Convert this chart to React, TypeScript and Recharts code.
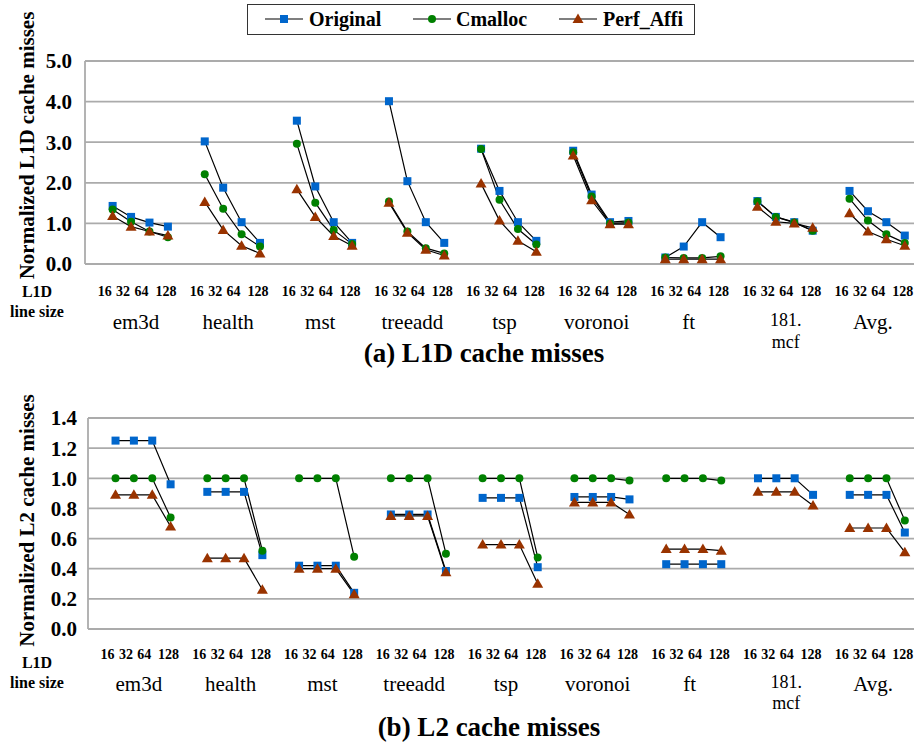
import React from 'react';
import { LineChart, Line, XAxis, YAxis, CartesianGrid } from 'recharts';

// ---------- categories ----------
const benchmarks = ['em3d', 'health', 'mst', 'treeadd', 'tsp', 'voronoi', 'ft', '181.|mcf', 'Avg.'];
const lineSizes = ['16', '32', '64', '128'];
const l1Ticks = [0, 1, 2, 3, 4, 5];
const l2Ticks = [0, 0.2, 0.4, 0.6, 0.8, 1.0, 1.2, 1.4];

// ---------- (a) L1D cache misses ----------
const l1Original = [
  1.43, 1.16, 1.02, 0.92,
  3.02, 1.88, 1.03, 0.52,
  3.53, 1.91, 1.03, 0.52,
  4.01, 2.04, 1.03, 0.52,
  2.84, 1.80, 1.03, 0.57,
  2.79, 1.71, 1.03, 1.06,
  0.16, 0.43, 1.03, 0.66,
  1.55, 1.16, 1.03, 0.82,
  1.80, 1.30, 1.03, 0.70,
];
const l1Cmalloc = [
  1.34, 1.04, 0.80, 0.66,
  2.21, 1.36, 0.73, 0.43,
  2.96, 1.51, 0.84, 0.49,
  1.54, 0.80, 0.39, 0.26,
  2.83, 1.58, 0.86, 0.48,
  2.75, 1.66, 1.00, 1.02,
  0.16, 0.15, 0.15, 0.19,
  1.54, 1.16, 1.02, 0.82,
  1.61, 1.07, 0.73, 0.52,
];
const l1Perf = [
  1.18, 0.92, 0.80, 0.70,
  1.53, 0.84, 0.45, 0.26,
  1.84, 1.16, 0.69, 0.45,
  1.51, 0.77, 0.35, 0.21,
  1.98, 1.07, 0.57, 0.30,
  2.67, 1.57, 0.98, 0.98,
  0.12, 0.12, 0.12, 0.12,
  1.41, 1.04, 1.00, 0.89,
  1.25, 0.80, 0.61, 0.45,
];

// ---------- (b) L2 cache misses ----------
const l2Original = [
  1.25, 1.25, 1.25, 0.96,
  0.91, 0.91, 0.91, 0.49,
  0.42, 0.42, 0.42, 0.24,
  0.76, 0.76, 0.76, 0.385,
  0.87, 0.87, 0.87, 0.41,
  0.876, 0.876, 0.876, 0.86,
  0.43, 0.43, 0.43, 0.43,
  1.0, 1.0, 1.0, 0.89,
  0.89, 0.89, 0.89, 0.64,
];
const l2Cmalloc = [
  1.0, 1.0, 1.0, 0.74,
  1.0, 1.0, 1.0, 0.52,
  1.0, 1.0, 1.0, 0.48,
  1.0, 1.0, 1.0, 0.50,
  1.0, 1.0, 1.0, 0.475,
  1.0, 1.0, 1.0, 0.985,
  1.0, 1.0, 1.0, 0.985,
  null, null, null, null,
  1.0, 1.0, 1.0, 0.72,
];
const l2Perf = [
  0.89, 0.89, 0.89, 0.68,
  0.47, 0.47, 0.47, 0.26,
  0.40, 0.40, 0.40, 0.23,
  0.75, 0.75, 0.75, 0.376,
  0.56, 0.56, 0.56, 0.30,
  0.84, 0.84, 0.84, 0.76,
  0.53, 0.53, 0.53, 0.52,
  0.91, 0.91, 0.91, 0.82,
  0.67, 0.67, 0.67, 0.51,
];

type Row = { slot: number; group: string; size: string; Original: number | null; Cmalloc: number | null; Perf_Affi: number | null };

function buildData(orig: (number | null)[], cm: (number | null)[], perf: (number | null)[]): Row[] {
  const rows: Row[] = [];
  benchmarks.forEach((b, g) => {
    rows.push({ slot: g * 5, group: b, size: '', Original: null, Cmalloc: null, Perf_Affi: null });
    lineSizes.forEach((s, k) => {
      const i = g * 4 + k;
      rows.push({ slot: g * 5 + 1 + k, group: b, size: s, Original: orig[i], Cmalloc: cm[i], Perf_Affi: perf[i] });
    });
  });
  return rows;
}

const l1Data = buildData(l1Original, l1Cmalloc, l1Perf);
const l2Data = buildData(l2Original, l2Cmalloc, l2Perf);

const BLUE = '#0066CC';
const GREEN = '#008000';
const BROWN = '#993300';
const GRID = '#ABABAB';
const SERIF = '"Liberation Serif", "Times New Roman", serif';

const squareDot = (p: any) => {
  if (p.cx == null || p.cy == null || p.value == null) return <g key={p.key} />;
  return <rect key={p.key} x={p.cx - 4} y={p.cy - 4} width={8} height={8} fill={BLUE} />;
};
const circleDot = (p: any) => {
  if (p.cx == null || p.cy == null || p.value == null) return <g key={p.key} />;
  return <circle key={p.key} cx={p.cx} cy={p.cy} r={4} fill={GREEN} />;
};
const triDot = (p: any) => {
  if (p.cx == null || p.cy == null || p.value == null) return <g key={p.key} />;
  return (
    <polygon
      key={p.key}
      points={`${p.cx},${p.cy - 5.5} ${p.cx + 5.5},${p.cy + 4} ${p.cx - 5.5},${p.cy + 4}`}
      fill={BROWN}
    />
  );
};

type TickCfg = { numDy: number; groupDy: number; mcfDy1: number; mcfDy2: number };

function makeTick(rows: Row[], cfg: TickCfg) {
  const bySlot: Record<number, Row> = {};
  rows.forEach((r) => (bySlot[r.slot] = r));
  return (props: any) => {
    const { x, y, payload } = props;
    const row = bySlot[payload.value];
    if (!row || !row.size) return <g />;
    const dx = row.size === '128' ? -2 : -8;
    let groupEl: React.ReactNode = null;
    if (row.size === '32') {
      const gx = x + 5;
      if (row.group.includes('|')) {
        const [a, b] = row.group.split('|');
        groupEl = (
          <g>
            <text x={gx + 5} y={y + cfg.mcfDy1} textAnchor="middle" fontFamily={SERIF} fontSize={18} fill="#000">{a}</text>
            <text x={gx + 5} y={y + cfg.mcfDy2} textAnchor="middle" fontFamily={SERIF} fontSize={18} fill="#000">{b}</text>
          </g>
        );
      } else {
        groupEl = (
          <text x={gx} y={y + cfg.groupDy} textAnchor="middle" fontFamily={SERIF} fontSize={21} fill="#000">{row.group}</text>
        );
      }
    }
    return (
      <g>
        <text x={x + dx} y={y + cfg.numDy} textAnchor="middle" fontFamily={SERIF} fontSize={14} fontWeight="bold" fill="#000">
          {row.size}
        </text>
        {groupEl}
      </g>
    );
  };
}

const YLabel = (props: any) => {
  const { viewBox, text, shift } = props;
  const cx = 27;
  const cy = viewBox.y + viewBox.height / 2 + shift;
  return (
    <text
      x={cx}
      y={cy}
      transform={`rotate(-90 ${cx} ${cy})`}
      textAnchor="middle"
      dominantBaseline="central"
      fontFamily={SERIF}
      fontSize={21}
      fontWeight="bold"
      fill="#000"
    >
      {text}
    </text>
  );
};

type PanelProps = {
  data: Row[];
  width: number;
  height: number;
  margin: { top: number; right: number; left: number; bottom: number };
  yWidth: number;
  yDomain: [number, number];
  yTicks: number[];
  yLabel: string;
  yShift: number;
  tickCfg: TickCfg;
  tickMargin: number;
};

function Panel(p: PanelProps) {
  const ticks = p.data.filter((r) => r.size).map((r) => r.slot);
  return (
    <LineChart width={p.width} height={p.height} data={p.data} margin={p.margin}>
      <CartesianGrid vertical={false} stroke={GRID} strokeWidth={1.8} />
      <XAxis
        type="number"
        dataKey="slot"
        domain={[-0.5, 44.5]}
        ticks={ticks}
        interval={0}
        tick={makeTick(p.data, p.tickCfg)}
        tickLine={false}
        axisLine={false}
        tickSize={0}
        tickMargin={0}
        height={60}
      />
      <YAxis
        type="number"
        domain={p.yDomain}
        ticks={p.yTicks}
        interval={0}
        width={p.yWidth}
        tickLine={false}
        tickSize={0}
        tickMargin={p.tickMargin}
        axisLine={{ stroke: GRID, strokeWidth: 1.8 }}
        tickFormatter={(v: number) => v.toFixed(1)}
        tick={{ fontFamily: SERIF, fontSize: 21, fontWeight: 'bold', fill: '#000' }}
        label={<YLabel text={p.yLabel} shift={p.yShift} />}
      />
      <Line dataKey="Original" stroke="#000" strokeWidth={1.2} dot={squareDot} activeDot={false} isAnimationActive={false} connectNulls={false} />
      <Line dataKey="Cmalloc" stroke="#000" strokeWidth={1.2} dot={circleDot} activeDot={false} isAnimationActive={false} connectNulls={false} />
      <Line dataKey="Perf_Affi" stroke="#000" strokeWidth={1.2} dot={triDot} activeDot={false} isAnimationActive={false} connectNulls={false} />
    </LineChart>
  );
}

const legendItems = [
  { name: 'Original', lineX: 17, textX: 61, marker: 'square' },
  { name: 'Cmalloc', lineX: 165, textX: 208, marker: 'circle' },
  { name: 'Perf_Affi', lineX: 311, textX: 355, marker: 'tri' },
];

function LegendMarker({ kind }: { kind: string }) {
  return (
    <svg width={38} height={14} style={{ display: 'block' }}>
      <line x1={0} y1={7} x2={38} y2={7} stroke="#000" strokeWidth={1.2} />
      {kind === 'square' && <rect x={15} y={3} width={8} height={8} fill={BLUE} />}
      {kind === 'circle' && <circle cx={19} cy={7} r={4} fill={GREEN} />}
      {kind === 'tri' && <polygon points="19,1.5 24.5,11 13.5,11" fill={BROWN} />}
    </svg>
  );
}

const textStyle: React.CSSProperties = { position: 'absolute', fontFamily: SERIF, color: '#000', whiteSpace: 'nowrap' };

export default function App() {
  return (
    <div style={{ position: 'absolute', left: 0, top: 0, width: 921, height: 746, background: '#fff', overflow: 'hidden' }}>
      <div style={{ position: 'absolute', left: 0, top: 0 }}>
        <Panel
          data={l1Data}
          width={921}
          height={375}
          margin={{ top: 61, right: 7, left: 0, bottom: 51 }}
          yWidth={85}
          yDomain={[0, 5]}
          yTicks={l1Ticks}
          yLabel="Normalized L1D cache misses"
          yShift={-17}
          tickCfg={{ numDy: 32, groupDy: 65, mcfDy1: 62, mcfDy2: 84 }}
          tickMargin={13}
        />
      </div>
      <div style={{ position: 'absolute', left: 0, top: 375 }}>
        <Panel
          data={l2Data}
          width={921}
          height={371}
          margin={{ top: 43, right: 7, left: 0, bottom: 57 }}
          yWidth={88}
          yDomain={[0, 1.4]}
          yTicks={l2Ticks}
          yLabel="Normalized L2 cache misses"
          yShift={-3}
          tickCfg={{ numDy: 30, groupDy: 62, mcfDy1: 59, mcfDy2: 80 }}
          tickMargin={11}
        />
      </div>

      {/* legend */}
      <div
        style={{
          position: 'absolute',
          left: 247,
          top: 4,
          width: 448,
          height: 31,
          border: '1.5px solid #333',
          boxSizing: 'border-box',
          background: '#fff',
        }}
      >
        {legendItems.map((it) => (
          <React.Fragment key={it.name}>
            <div style={{ position: 'absolute', left: it.lineX, top: 7 }}>
              <LegendMarker kind={it.marker} />
            </div>
            <div style={{ ...textStyle, left: it.textX, top: 3, fontSize: 20, lineHeight: '22px', fontWeight: 'bold' }}>{it.name}</div>
          </React.Fragment>
        ))}
      </div>

      {/* L1D line size labels */}
      {[{ y1: 283, y2: 303 }, { y1: 654, y2: 674 }].map((p, i) => (
        <React.Fragment key={i}>
          <div style={{ ...textStyle, left: 0, width: 74, textAlign: 'center', top: p.y1, fontSize: 16, lineHeight: '18px', fontWeight: 'bold' }}>L1D</div>
          <div style={{ ...textStyle, left: 0, width: 74, textAlign: 'center', top: p.y2, fontSize: 16, lineHeight: '18px', fontWeight: 'bold' }}>line size</div>
        </React.Fragment>
      ))}

      {/* captions */}
      <div style={{ ...textStyle, left: 284, width: 400, textAlign: 'center', top: 337, fontSize: 27, lineHeight: '32px', fontWeight: 'bold' }}>
        (a) L1D cache misses
      </div>
      <div style={{ ...textStyle, left: 289, width: 400, textAlign: 'center', top: 711, fontSize: 27, lineHeight: '32px', fontWeight: 'bold' }}>
        (b) L2 cache misses
      </div>
    </div>
  );
}
